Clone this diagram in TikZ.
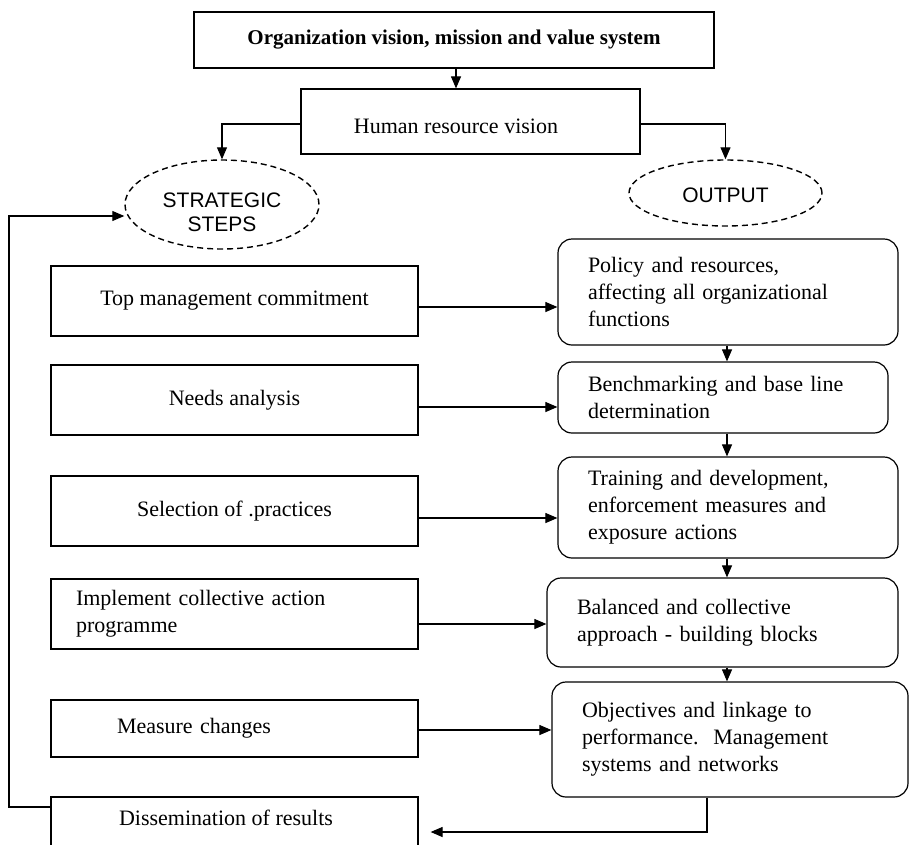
\documentclass[tikz,border=0pt]{standalone}
\usepackage{fontspec}
\setmainfont{Liberation Serif}
\setsansfont{Liberation Sans}
\usetikzlibrary{arrows.meta,shapes.geometric}
\begin{document}
\begin{tikzpicture}[x=1pt,y=-1pt,
  box/.style={draw,line width=1.2pt,rectangle,inner sep=0pt,minimum width=367pt,font=\fontsize{22}{27}\selectfont},
  rbox/.style={draw,line width=1.2pt,rectangle,rounded corners=14pt,inner xsep=30pt,inner ysep=0pt,align=left,font=\fontsize{22}{27}\selectfont},
  oval/.style={draw,ellipse,dash pattern=on 6pt off 4pt,line width=1.4pt,inner sep=0pt},
  txt/.style={inner sep=0pt,font=\fontsize{22}{27}\selectfont},
  stxt/.style={inner sep=0pt,align=center,font=\sffamily\fontsize{21}{24}\selectfont},
  arr/.style={line width=1.1pt,-{Triangle[length=12pt,width=10pt]}},
  ln/.style={line width=1.1pt}]
\clip (0,0) rectangle (910,844);
% top
\node[draw,line width=1.2pt,minimum width=520pt,minimum height=56pt,inner sep=0pt,font=\bfseries\fontsize{21}{25}\selectfont] (top) at (454,40) {Organization vision, mission and value system};
\node[draw,line width=1.2pt,minimum width=339pt,minimum height=65pt,inner sep=0pt] (hr) at (470.5,121.5) {};
\node[txt] (hrtxt) at (456,126) {Human resource vision};
% ellipses
\node[oval,minimum width=194pt,minimum height=89pt] (strat) at (222,204.5) {};
\node[stxt] (strattxt) at (222,212) {STRATEGIC\\STEPS};
\node[oval,minimum width=193pt,minimum height=66pt] (out) at (725.5,193) {};
\node[stxt] (outtxt) at (725.5,195) {OUTPUT};
% left boxes
\node[box,minimum height=70pt] (tm) at (234.5,301) {Top management commitment};
\node[box,minimum height=70pt] (na) at (234.5,400) {Needs analysis};
\node[box,minimum height=70pt] (sp) at (234.5,511) {Selection of .practices};
\node[box,minimum height=70pt,inner xsep=25pt,text width=317pt,align=left] (ic) at (234.5,614) {Implement collective action\\programme};
\node[box,minimum height=57pt,inner xsep=66pt,text width=235pt,align=left] (mc) at (234.5,728.5) {Measure changes};
\node[box,minimum height=80pt] (dr) at (234.5,837) {};
\node[txt] (drtxt) at (226,818) {Dissemination of results};
% right boxes
\node[rbox,minimum height=106pt,text width=280pt] (pr) at (728,292) {Policy and resources,\\affecting all organizational\\functions};
\node[rbox,minimum height=71pt,text width=270pt] (bm) at (723,397.5) {Benchmarking and base line\\determination};
\node[rbox,minimum height=101pt,text width=280pt] (td) at (728,507.5) {Training and development,\\enforcement measures and\\exposure actions};
\node[rbox,minimum height=89pt,text width=291pt] (bc) at (722.5,622.5) {Balanced and collective\\approach - building blocks};
\node[rbox,minimum height=115pt,text width=296pt] (ob) at (730,739.5) {Objectives and linkage to\\performance.\ \ Management\\systems and networks};
% helper coordinates
\coordinate (xa) at (456,0);
\coordinate (yh) at (0,124);
\coordinate (xv) at (727,0);
\coordinate (xf) at (9,0);
\coordinate (yf) at (0,216);
\coordinate (yd) at (0,807);
\coordinate (xb) at (707,0);
\coordinate (yb) at (0,832);
\coordinate (y1) at (0,307);
\coordinate (y2) at (0,407);
\coordinate (y3) at (0,518);
\coordinate (y4) at (0,624);
\coordinate (y5) at (0,730);
% connectors
\draw[arr] (top.south -| xa) -- (hr.north -| xa);
\draw[arr] (hr.west |- yh) -| (strat.north);
\draw[arr] (hr.east |- yh) -| (out.north);
\draw[arr] (tm.east |- y1) -- (pr.west |- y1);
\draw[arr] (na.east |- y2) -- (bm.west |- y2);
\draw[arr] (sp.east |- y3) -- (td.west |- y3);
\draw[arr] (ic.east |- y4) -- (bc.west |- y4);
\draw[arr] (mc.east |- y5) -- (ob.west |- y5);
\draw[arr] (pr.south -| xv) -- (bm.north -| xv);
\draw[arr] (bm.south -| xv) -- (td.north -| xv);
\draw[arr] (td.south -| xv) -- (bc.north -| xv);
\draw[arr] (bc.south -| xv) -- (ob.north -| xv);
\draw[arr] (dr.west |- yd) -- (xf |- yd) -- (xf |- yf) -- (strat.west |- yf);
\draw[arr,shorten >=12pt] (ob.south -| xb) -- (xb |- yb) -- (dr.east |- yb);
\end{tikzpicture}
\end{document}
